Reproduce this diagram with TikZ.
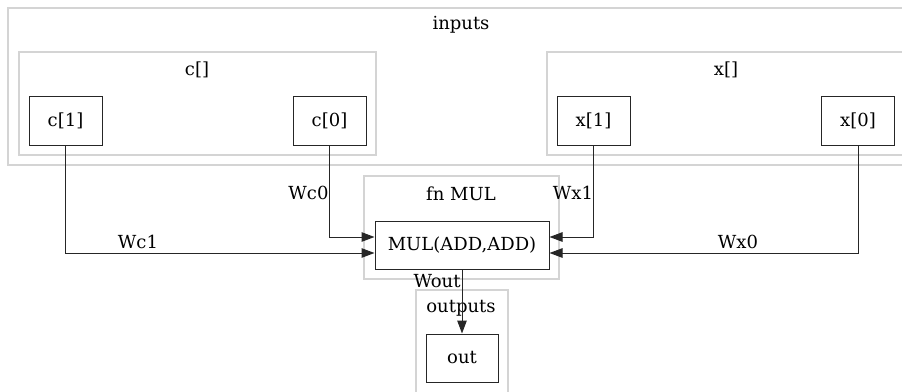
\documentclass[tikz,border=0pt]{standalone}
\usepackage{fontspec}
\setmainfont{DejaVu Serif}
\usetikzlibrary{arrows.meta}

\begin{document}
\begin{tikzpicture}[x=1pt, y=-1pt, >={Triangle[length=13pt, width=9.5pt]}, line width=1pt, draw=black!85,
    box/.style={draw, minimum width=73pt, minimum height=49pt, inner sep=0pt, font=\fontsize{18}{21}\selectfont},
    cluster/.style={draw=black!17, line width=1.4pt},
    title/.style={font=\fontsize{18}{21}\selectfont, inner sep=0pt},
    wire/.style={font=\fontsize{18}{21}\selectfont, inner sep=0pt}]
    \useasboundingbox (0,0) rectangle (902,391);

    % Clusters
    \draw[cluster] (8,8) rectangle (910,165);
    \draw[cluster] (19,52) rectangle (376,155);
    \draw[cluster] (547,52) rectangle (910,155);
    \draw[cluster] (364,176) rectangle (559,279);
    \draw[cluster] (416,290) rectangle (508,400);
    \node[title] (tin) at (461,25) {inputs};
    \node[title] (tc) at (197,70) {c[]};
    \node[title] (tx) at (726,70) {x[]};
    \node[title] (tfn) at (461,194) {fn MUL};
    \node[title] (tout) at (461,308) {outputs};

    % Nodes
    \node[box] (c1) at (65.5,120.5) {c[1]};
    \node[box] (c0) at (329.5,120.5) {c[0]};
    \node[box] (x1) at (593.5,120.5) {x[1]};
    \node[box] (x0) at (858,120.5) {x[0]};
    \node[box, minimum width=174pt, minimum height=48pt] (mul) at (462,245) {MUL(ADD,ADD)};
    \node[box, minimum width=72pt, minimum height=48pt] (out) at (462,358) {out};

    % Wires
    \draw[->] (c1.south) |- ([yshift=-8pt]mul.west);
    \draw[->] (c0.south) |- ([yshift=8pt]mul.west);
    \draw[->] (x1.south) |- ([yshift=8pt]mul.east);
    \draw[->] (x0.south) |- ([yshift=-8pt]mul.east);
    \draw[->] (mul.south) -- (out.north);

    % Wire labels
    \node[wire] (lc1) at (138,242) {Wc1};
    \node[wire, anchor=east] (lc0) at (329,193) {Wc0};
    \node[wire] (lx1) at (573,193) {Wx1};
    \node[wire] (lx0) at (738,242) {Wx0};
    \node[wire] (lout) at (437,281) {Wout};
\end{tikzpicture}
\end{document}
